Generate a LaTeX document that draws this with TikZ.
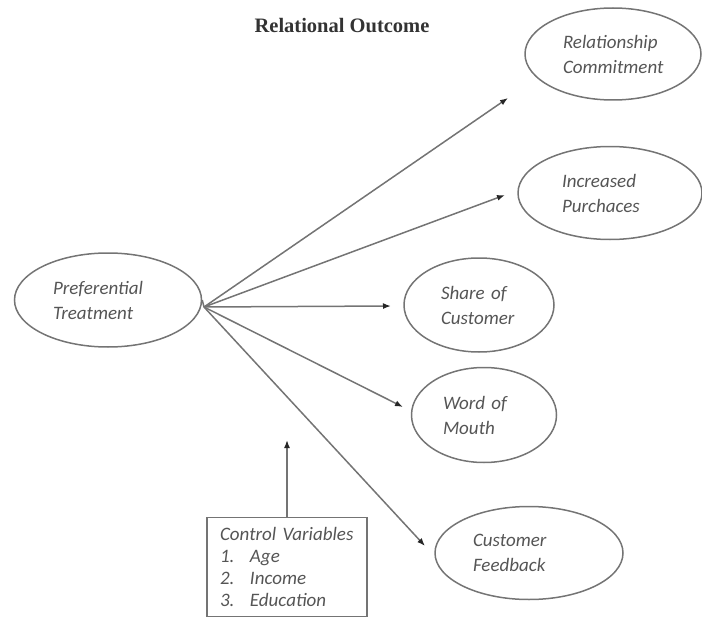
\documentclass[tikz,border=0pt]{standalone}
\usepackage{fontspec}
\setmainfont{Liberation Serif}
\newfontfamily\calibri[WordSpace={0.45,0,0}]{Carlito}
\usepackage{tikz}
\usetikzlibrary{shapes}
\usetikzlibrary{arrows.meta}
\usetikzlibrary{positioning}
\definecolor{linegray}{HTML}{747474}
\definecolor{textgray}{HTML}{555555}
\tikzstyle{outcome}=[ellipse,draw=linegray,inner sep=0mm,align=left,text=textgray,font=\calibri\itshape\fontsize{19}{25}\selectfont]
\tikzstyle{control}=[rectangle,draw=linegray,inner sep=0mm,align=left,text=textgray,font=\calibri\itshape\fontsize{19}{22}\selectfont]
\tikzstyle{arrow}=[-{Latex[length=8pt,width=6pt,color=black!85]},draw=linegray]
\tikzset{every picture/.style={
    line width=1.5
  }
}

\begin{document}
\begin{tikzpicture}[x=1pt,y=-1pt]
        \useasboundingbox (0,0) rectangle (702,618);
        \node[text=black!80,font=\bfseries\fontsize{20.5}{24}\selectfont] at (342,26) (title) {Relational Outcome};
        \node[outcome,text width=110pt,minimum width=187pt,minimum height=94pt] at (108,300) (pt) {Preferential\\Treatment};
        \node[outcome,text width=100pt,minimum width=176pt,minimum height=92pt] at (613,54) (rc) {Relationship\\Commitment};
        \node[outcome,text width=96pt,minimum width=184pt,minimum height=93pt] at (610,193) (ip) {Increased\\Purchaces};
        \node[outcome,text width=76pt,minimum width=150pt,minimum height=94pt] at (479,305) (soc) {Share of\\Customer};
        \node[outcome,text width=82pt,minimum width=145pt,minimum height=95pt] at (484,415) (wom) {Word of\\Mouth};
        \node[outcome,text width=112pt,minimum width=188pt,minimum height=93pt] at (529,553) (cf) {Customer\\Feedback};
        \node[control,text width=134pt,minimum width=160pt,minimum height=99pt] at (287,567) (ctrl) {Control Variables\\\makebox[30pt][l]{1.}Age\\\makebox[30pt][l]{2.}Income\\\makebox[30pt][l]{3.}Education};
        % arrow ends
        \coordinate (hub) at (204,307);
        \coordinate (rctip) at (508,98);
        \coordinate (iptip) at (505,195);
        \coordinate (soctip) at (391,306);
        \coordinate (womtip) at (403,407);
        \coordinate (cftip) at (425,546);
        \coordinate (ctrltip) at (287,440);
        \draw[draw=linegray] (pt.east) -- (hub);
        \draw[arrow] (hub) -- (rctip);
        \draw[arrow] (hub) -- (iptip);
        \draw[arrow] (hub) -- (soctip);
        \draw[arrow] (hub) -- (womtip);
        \draw[arrow] (hub) -- (cftip);
        \draw[arrow] (ctrl.north) -- (ctrltip);
      \end{tikzpicture}
\end{document}
